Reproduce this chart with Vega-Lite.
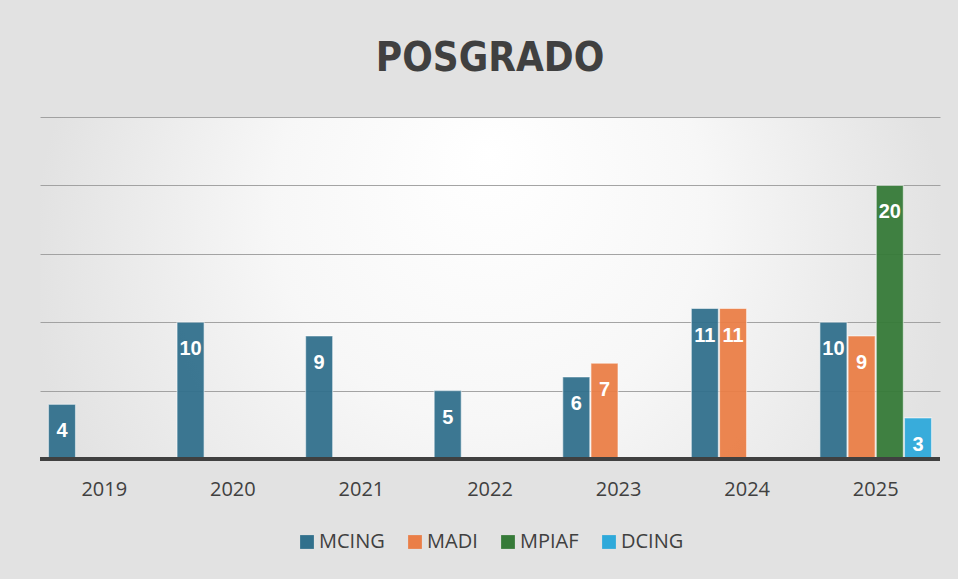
{
  "$schema": "https://vega.github.io/schema/vega-lite/v6.json",
  "width": 900,
  "height": 342,
  "autosize": {"type": "none"},
  "padding": {"left": 40, "top": 117, "right": 18, "bottom": 120},
  "background": "#e2e2e2",
  "config": {
    "view": {
      "stroke": null,
      "fill": {"gradient": "radial", "x1": 0.5, "y1": 0.35, "r1": 0, "x2": 0.5, "y2": 0.5, "r2": 0.6,
        "stops": [{"offset": 0, "color": "#ffffff"}, {"offset": 0.4, "color": "#f7f7f7"}, {"offset": 0.85, "color": "#e2e2e2"}, {"offset": 1, "color": "#e2e2e2"}]}
    }
  },
  "title": {
    "text": "POSGRADO",
    "font": "DejaVu Sans Condensed",
    "fontSize": 40,
    "fontWeight": "bold",
    "color": "#404040",
    "anchor": "middle",
    "offset": 38
  },
  "data": {
    "values": [
      {"year": "2019", "program": "MCING", "count": 4},
      {"year": "2020", "program": "MCING", "count": 10},
      {"year": "2021", "program": "MCING", "count": 9},
      {"year": "2022", "program": "MCING", "count": 5},
      {"year": "2023", "program": "MCING", "count": 6},
      {"year": "2023", "program": "MADI", "count": 7},
      {"year": "2024", "program": "MCING", "count": 11},
      {"year": "2024", "program": "MADI", "count": 11},
      {"year": "2025", "program": "MCING", "count": 10},
      {"year": "2025", "program": "MADI", "count": 9},
      {"year": "2025", "program": "MPIAF", "count": 20},
      {"year": "2025", "program": "DCING", "count": 3}
    ]
  },
  "encoding": {
    "x": {
      "field": "year", "type": "nominal",
      "scale": {"paddingInner": 0, "paddingOuter": 0},
      "axis": {
        "title": null, "labelAngle": 0, "domain": false, "ticks": false,
        "labelFont": "Open Sans", "labelFontSize": 20, "labelColor": "#404040", "labelPadding": 20
      }
    },
    "xOffset": {
      "field": "program", "type": "nominal",
      "scale": {"domain": ["MCING", "MADI", "MPIAF", "DCING"], "paddingInner": 0.04, "paddingOuter": 0.3}
    },
    "y": {
      "field": "count", "type": "quantitative",
      "scale": {"domain": [0, 25]},
      "axis": {
        "title": null, "values": [5, 10, 15, 20, 25], "labels": false, "ticks": false, "domain": false,
        "gridColor": "#9a9a9a", "gridWidth": 1.2, "gridOpacity": 0.9
      }
    }
  },
  "layer": [
    {
      "mark": {"type": "bar", "stroke": "#ffffff", "strokeOpacity": 0.5, "strokeWidth": 1.2, "fillOpacity": 0.95},
      "encoding": {
        "color": {
          "field": "program", "type": "nominal",
          "scale": {"domain": ["MCING", "MADI", "MPIAF", "DCING"], "range": ["#31708c", "#ea7e47", "#367a38", "#2ea9da"]},
          "legend": {
            "title": null, "orient": "none", "legendX": 257, "legendY": 415, "direction": "horizontal",
            "symbolType": "square", "symbolSize": 190, "symbolStrokeWidth": 0,
            "labelFont": "Open Sans", "labelFontSize": 20, "labelColor": "#404040",
            "columnPadding": 20, "labelOffset": 2
          }
        }
      }
    },
    {
      "mark": {"type": "text", "baseline": "middle", "dy": 27, "font": "Liberation Sans", "fontWeight": "bold", "fontSize": 20, "color": "#ffffff"},
      "encoding": {"text": {"field": "count", "type": "quantitative"}}
    },
    {
      "mark": {"type": "rule", "color": "#404040", "strokeWidth": 3.5},
      "encoding": {"y": {"datum": 0}, "x": null, "xOffset": null}
    }
  ]
}
